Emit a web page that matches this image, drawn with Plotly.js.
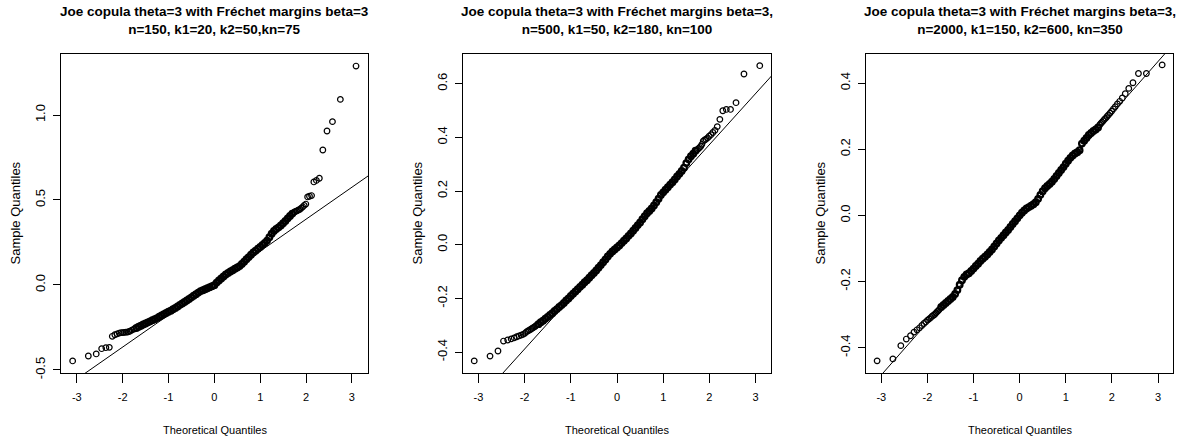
<!DOCTYPE html>
<html>
<head>
<meta charset="utf-8">
<script src="https://cdn.plot.ly/plotly-3.0.1.min.js"></script>
<style>
  html, body { margin: 0; padding: 0; background: #ffffff; }
  #qq { width: 1179px; height: 445px; }
</style>
</head>
<body>
<div id="qq"></div>
<script>
// Normal QQ plots of the estimator for three simulation settings.

const panelTitles = [
  "Joe copula theta=3 with Fréchet margins beta=3<br>n=150, k1=20, k2=50,kn=75",
  "Joe copula theta=3 with Fréchet margins beta=3,<br>n=500, k1=50, k2=180, kn=100",
  "Joe copula theta=3 with Fréchet margins beta=3,<br>n=2000, k1=150, k2=600, kn=350"
];

// Panel 1: theoretical vs sample quantiles
const theoQ1 = [-3.090,-2.748,-2.576,-2.457,-2.366,-2.290,-2.226,-2.170,-2.120,-2.075,-2.034,-1.995,-1.960,-1.927,-1.896,-1.866,-1.838,
  -1.80,-1.75,-1.70,-1.65,-1.60,-1.55,-1.50,-1.45,-1.40,-1.35,-1.30,-1.25,-1.20,-1.15,-1.10,-1.05,-1.00,-0.95,-0.90,-0.85,
  -0.80,-0.75,-0.70,-0.65,-0.60,-0.55,-0.50,-0.45,-0.40,-0.35,-0.30,-0.25,-0.20,-0.15,-0.10,-0.05,0.00,0.05,0.10,0.15,
  0.20,0.25,0.30,0.35,0.40,0.45,0.50,0.55,0.60,0.65,0.70,0.75,0.80,0.85,0.90,0.95,1.00,1.05,1.10,1.15,1.20,1.25,1.30,1.35,
  1.40,1.45,1.50,1.55,1.60,1.65,1.70,
  1.739,1.762,1.787,1.812,1.838,1.866,1.896,1.927,1.960,1.995,2.034,2.075,2.120,2.170,2.226,2.290,2.366,2.457,2.576,2.748,3.090];
const sampQ1 = [-0.447,-0.418,-0.406,-0.375,-0.369,-0.367,-0.302,-0.293,-0.288,-0.283,-0.281,-0.280,-0.279,-0.278,-0.277,-0.275,-0.272,
  -0.266,-0.259,-0.253,-0.246,-0.240,-0.233,-0.227,-0.220,-0.214,-0.207,-0.201,-0.195,-0.187,-0.180,-0.172,-0.165,-0.158,-0.151,-0.143,-0.135,
  -0.126,-0.117,-0.109,-0.100,-0.091,-0.082,-0.073,-0.063,-0.054,-0.045,-0.036,-0.031,-0.025,-0.019,-0.013,-0.007,-0.001,0.014,0.026,0.038,
  0.050,0.062,0.071,0.079,0.087,0.095,0.103,0.111,0.124,0.137,0.151,0.164,0.178,0.191,0.202,0.213,0.224,0.236,0.247,0.261,0.281,0.301,0.318,0.329,
  0.339,0.350,0.363,0.377,0.392,0.406,0.420,
  0.428,0.431,0.435,0.438,0.442,0.445,0.452,0.460,0.468,0.476,0.518,0.522,0.526,0.606,0.615,0.628,0.794,0.906,0.961,1.092,1.288];

// Panel 2
const theoQ2 = [-3.090,-2.748,-2.576,-2.457,-2.366,-2.290,-2.226,-2.170,-2.120,-2.075,-2.034,-1.995,-1.960,-1.927,-1.896,-1.866,-1.838,-1.812,-1.787,-1.762,-1.739,
  -1.70,-1.65,-1.60,-1.55,-1.50,-1.45,-1.40,-1.35,-1.30,-1.25,-1.20,-1.15,-1.10,-1.05,-1.00,-0.95,-0.90,-0.85,
  -0.80,-0.75,-0.70,-0.65,-0.60,-0.55,-0.50,-0.45,-0.40,-0.35,-0.30,-0.25,-0.20,-0.15,-0.10,-0.05,0.00,0.05,0.10,0.15,
  0.20,0.25,0.30,0.35,0.40,0.45,0.50,0.55,0.60,0.65,0.70,0.75,0.80,0.85,0.90,0.95,1.00,1.05,1.10,1.15,1.20,1.25,1.30,1.35,
  1.40,1.45,1.50,1.55,1.60,1.65,1.70,
  1.739,1.762,1.787,1.812,1.838,1.866,1.896,1.927,1.960,1.995,2.034,2.075,2.120,2.170,2.226,2.290,2.366,2.457,2.576,2.748,3.090];
const sampQ2 = [-0.433,-0.415,-0.396,-0.359,-0.355,-0.351,-0.347,-0.343,-0.340,-0.337,-0.334,-0.330,-0.325,-0.321,-0.318,-0.315,-0.312,-0.309,-0.306,-0.303,-0.300,
  -0.296,-0.289,-0.283,-0.276,-0.269,-0.262,-0.255,-0.247,-0.240,-0.232,-0.225,-0.217,-0.208,-0.200,-0.191,-0.183,-0.174,-0.166,
  -0.157,-0.149,-0.140,-0.132,-0.123,-0.114,-0.105,-0.096,-0.086,-0.076,-0.065,-0.055,-0.044,-0.034,-0.025,-0.018,-0.010,-0.003,0.006,0.015,
  0.023,0.033,0.042,0.052,0.062,0.073,0.083,0.095,0.106,0.117,0.126,0.135,0.146,0.158,0.171,0.185,0.195,0.205,0.214,0.224,0.233,0.243,0.254,0.264,
  0.275,0.287,0.304,0.318,0.330,0.339,0.350,
  0.354,0.358,0.362,0.366,0.374,0.386,0.390,0.393,0.398,0.404,0.410,0.418,0.426,0.440,0.467,0.499,0.504,0.504,0.529,0.636,0.667];

// Panel 3
const theoQ3 = [-3.090,-2.748,-2.576,-2.457,-2.366,-2.290,-2.226,-2.170,-2.120,-2.075,-2.034,-1.995,-1.960,-1.927,-1.896,-1.866,-1.838,-1.812,-1.787,-1.762,-1.739,
  -1.70,-1.65,-1.60,-1.55,-1.50,-1.45,-1.40,-1.35,-1.30,-1.25,-1.20,-1.15,-1.10,-1.05,-1.00,-0.95,-0.90,-0.85,
  -0.80,-0.75,-0.70,-0.65,-0.60,-0.55,-0.50,-0.45,-0.40,-0.35,-0.30,-0.25,-0.20,-0.15,-0.10,-0.05,0.00,0.05,0.10,0.15,
  0.20,0.25,0.30,0.35,0.40,0.45,0.50,0.55,0.60,0.65,0.70,0.75,0.80,0.85,0.90,0.95,1.00,1.05,1.10,1.15,1.20,1.25,1.30,1.35,
  1.40,1.45,1.50,1.55,1.60,1.65,1.70,
  1.739,1.762,1.787,1.812,1.838,1.866,1.896,1.927,1.960,1.995,2.034,2.075,2.120,2.170,2.226,2.290,2.366,2.457,2.576,2.748,3.090];
const sampQ3 = [-0.440,-0.434,-0.394,-0.374,-0.364,-0.353,-0.346,-0.340,-0.333,-0.327,-0.322,-0.317,-0.313,-0.309,-0.305,-0.302,-0.299,-0.295,-0.291,-0.288,-0.284,
  -0.277,-0.271,-0.265,-0.259,-0.253,-0.247,-0.238,-0.226,-0.210,-0.196,-0.186,-0.179,-0.175,-0.168,-0.161,-0.153,-0.146,-0.138,
  -0.131,-0.125,-0.118,-0.111,-0.103,-0.094,-0.085,-0.076,-0.068,-0.060,-0.052,-0.044,-0.035,-0.026,-0.018,-0.009,0.000,0.008,0.015,0.021,
  0.025,0.029,0.034,0.040,0.050,0.062,0.073,0.082,0.089,0.095,0.102,0.110,0.119,0.128,0.137,0.146,0.156,0.165,0.174,0.181,0.187,0.191,0.197,0.217,
  0.226,0.234,0.243,0.249,0.255,0.260,0.266,
  0.274,0.278,0.282,0.286,0.290,0.294,0.299,0.304,0.309,0.315,0.322,0.329,0.337,0.345,0.355,0.368,0.384,0.401,0.429,0.429,0.455];

// Reference lines through the quartiles (intercept, slope)
const refIntercept = [0.0107, -0.008, -0.0087];
const refSlope = [0.1881, 0.1904, 0.158];

// Axis ticks
const xTickVals = [-3, -2, -1, 0, 1, 2, 3];
const xTickText = ["-3", "-2", "-1", "0", "1", "2", "3"];
const yTickVals1 = [-0.5, 0, 0.5, 1.0];
const yTickText1 = ["-0.5", "0.0", "0.5", "1.0"];
const yTickVals2 = [-0.4, -0.2, 0, 0.2, 0.4, 0.6];
const yTickText2 = ["-0.4", "-0.2", "0.0", "0.2", "0.4", "0.6"];
const yTickVals3 = [-0.4, -0.2, 0, 0.2, 0.4];
const yTickText3 = ["-0.4", "-0.2", "0.0", "0.2", "0.4"];

const xLabel = "Theoretical Quantiles";
const yLabel = "Sample Quantiles";

const W = 1179, H = 445;
const FONT = "Liberation Sans, Arial, Helvetica, sans-serif";

const panels = [
  { x: theoQ1, y: sampQ1, yv: yTickVals1, yt: yTickText1, left: 61,  right: 368,  xr: [-3.344, 3.351], yr: [-0.518, 1.359] },
  { x: theoQ2, y: sampQ2, yv: yTickVals2, yt: yTickText2, left: 463, right: 771,  xr: [-3.333, 3.333], yr: [-0.478, 0.7105] },
  { x: theoQ3, y: sampQ3, yv: yTickVals3, yt: yTickText3, left: 866, right: 1173, xr: [-3.331, 3.325], yr: [-0.4767, 0.488] }
];
const plotTop = 54, plotBottom = 373;
const yDomain = [(H - plotBottom) / H, (H - plotTop) / H];

// The central run of each sample is listed more sparsely than the tails,
// so its rings get a heavier stroke to render as the solid run of circles.
const CENTRAL = 1.705;
function ringWidths(xs) {
  return xs.map(v => (Math.abs(v) <= CENTRAL ? 2.3 : 1.2));
}

const traces = [];
const layout = {
  width: W, height: H,
  margin: { l: 0, r: 0, t: 0, b: 0 },
  paper_bgcolor: "#ffffff",
  plot_bgcolor: "#ffffff",
  showlegend: false,
  font: { family: FONT, color: "#000000" },
  annotations: []
};

panels.forEach((p, i) => {
  const n = i + 1;
  const xa = "x" + (n === 1 ? "" : n);
  const ya = "y" + (n === 1 ? "" : n);

  traces.push({
    type: "scatter", mode: "markers",
    x: p.x, y: p.y, xaxis: xa, yaxis: ya,
    marker: { symbol: "circle-open", size: 5.6, color: "#000000", line: { width: ringWidths(p.x), color: "#000000" } },
    hoverinfo: "x+y", cliponaxis: true
  });

  const lx = [-4, 4];
  traces.push({
    type: "scatter", mode: "lines",
    x: lx, y: lx.map(v => refIntercept[i] + refSlope[i] * v),
    xaxis: xa, yaxis: ya,
    line: { color: "#000000", width: 1 },
    hoverinfo: "skip"
  });

  layout["xaxis" + (n === 1 ? "" : n)] = {
    domain: [p.left / W, p.right / W],
    anchor: ya,
    range: p.xr,
    tickvals: xTickVals, ticktext: xTickText,
    ticks: "outside", ticklen: 9, tickwidth: 1, tickcolor: "#000000",
    ticklabelstandoff: 5,
    showline: true, mirror: true, linecolor: "#000000", linewidth: 1,
    showgrid: false, zeroline: false,
    tickfont: { family: FONT, size: 11, color: "#000000" },
    fixedrange: true
  };
  layout["yaxis" + (n === 1 ? "" : n)] = {
    domain: yDomain,
    anchor: xa,
    range: p.yr,
    tickvals: p.yv, ticktext: p.yt,
    tickangle: -90,
    ticks: "outside", ticklen: 7, tickwidth: 1, tickcolor: "#000000",
    ticklabelstandoff: 3,
    showline: true, mirror: true, linecolor: "#000000", linewidth: 1,
    showgrid: false, zeroline: false,
    tickfont: { family: FONT, size: 13, color: "#000000" },
    fixedrange: true
  };

  const cx = (p.left + p.right) / 2 / W;
  layout.annotations.push({
    xref: "paper", yref: "paper", x: cx, y: 1 - 2 / H,
    xanchor: "center", yanchor: "top",
    text: panelTitles[i], showarrow: false,
    font: { family: FONT, size: 13.5, weight: 700, color: "#000000" }
  });
  layout.annotations.push({
    xref: "paper", yref: "paper", x: cx, y: (H - 430) / H,
    xanchor: "center", yanchor: "middle",
    text: xLabel, showarrow: false,
    font: { family: FONT, size: 11, color: "#000000" }
  });
  layout.annotations.push({
    xref: "paper", yref: "paper", x: (p.left - 46) / W, y: (H - (plotTop + plotBottom) / 2) / H,
    xanchor: "center", yanchor: "middle", textangle: -90,
    text: yLabel, showarrow: false,
    font: { family: FONT, size: 13, color: "#000000" }
  });
});

Plotly.newPlot("qq", traces, layout, { staticPlot: true, displayModeBar: false });
</script>
</body>
</html>
